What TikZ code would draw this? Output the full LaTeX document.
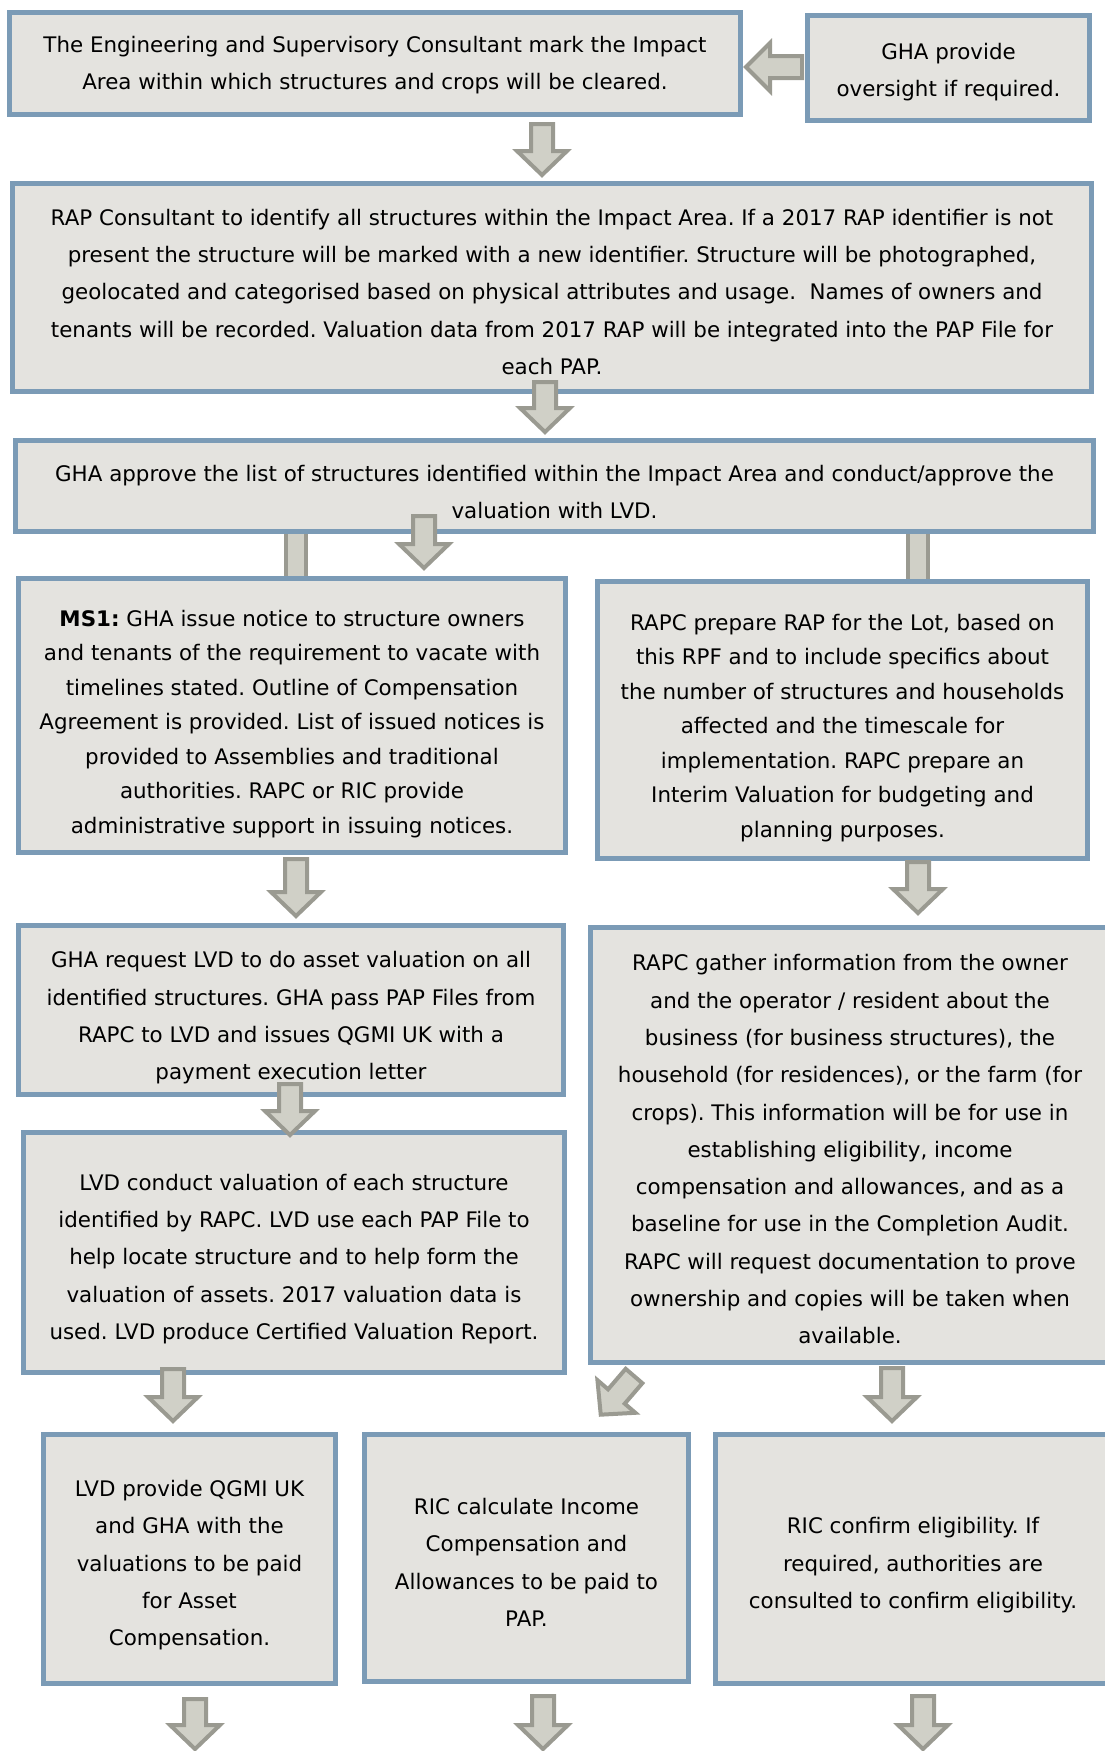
\documentclass[tikz,border=0pt]{standalone}
\usepackage{fontspec}
\setmainfont{DejaVu Sans}
\usetikzlibrary{calc}
\definecolor{boxfill}{HTML}{E4E3DF}
\definecolor{boxline}{HTML}{7B9BB6}
\definecolor{arrfill}{HTML}{D0D0C7}
\definecolor{arrline}{HTML}{9A9A91}
\newcommand{\fst}[1][25pt]{\rule{0pt}{#1}}
\tikzset{
  flowbox/.style={draw=boxline, line width=4.3pt, fill=boxfill, align=center,
    inner sep=0pt, text=black, font=\fontsize{21.4}{37.3}\selectfont\frenchspacing},
  tightbox/.style={flowbox, font=\fontsize{21.4}{34.5}\selectfont\frenchspacing},
  blk/.style={draw=arrline, fill=arrfill, line width=4pt, line join=miter},
}
\newcommand{\dnarrow}[2]{%
  \draw[blk] ($(#1)+(-11,0)$) -- ($(#2)+(-11,-24)$) -- ($(#2)+(-25,-24)$) -- (#2)
    -- ($(#2)+(25,-24)$) -- ($(#2)+(11,-24)$) -- ($(#1)+(11,0)$) -- cycle;}
\newcommand{\ltarrow}[2]{%
  \draw[blk] ($(#1)+(0,-11)$) -- ($(#2)+(24,-11)$) -- ($(#2)+(24,-24)$) -- (#2)
    -- ($(#2)+(24,24)$) -- ($(#2)+(24,11)$) -- ($(#1)+(0,11)$) -- cycle;}
\begin{document}
\begin{tikzpicture}[x=1pt,y=-1pt]
\useasboundingbox (0,0) rectangle (1105,1751);
\fill[white] (0,0) rectangle (1105,1751);

% connector bars from the approval box
\draw[blk] (286,530) rectangle (306,580);
\draw[blk] (908,530) rectangle (928,582);

% boxes
\node[flowbox, minimum width=731pt, minimum height=102pt] (b1) at (375,63.5)
  {\fst[20pt]The Engineering and Supervisory Consultant mark the Impact\\Area within which structures and crops will be cleared.};
\node[flowbox, minimum width=282pt, minimum height=105pt] (b0) at (948.5,68)
  {\fst GHA provide\\oversight if required.};
\node[flowbox, minimum width=1079pt, minimum height=208pt] (b2) at (552,287.5)
  {\fst RAP Consultant to identify all structures within the Impact Area. If a 2017 RAP identifier is not\\
   present the structure will be marked with a new identifier. Structure will be photographed,\\
   geolocated and categorised based on physical attributes and usage.\ \ Names of owners and\\
   tenants will be recorded. Valuation data from 2017 RAP will be integrated into the PAP File for\\
   each PAP.};
\node[flowbox, minimum width=1078pt, minimum height=91pt] (b3) at (554.5,486)
  {\fst[28pt]GHA approve the list of structures identified within the Impact Area and conduct/approve the\\
   valuation with LVD.};
\node[tightbox, minimum width=547pt, minimum height=274pt] (b4) at (292,715.5)
  {\fst[33pt]\textbf{MS1:} GHA issue notice to structure owners\\
   and tenants of the requirement to vacate with\\
   timelines stated. Outline of Compensation\\
   Agreement is provided. List of issued notices is\\
   provided to Assemblies and traditional\\
   authorities. RAPC or RIC provide\\
   administrative support in issuing notices.};
\node[tightbox, minimum width=490pt, minimum height=277pt] (b5) at (842.5,720)
  {\fst[32pt]RAPC prepare RAP for the Lot, based on\\
   this RPF and to include specifics about\\
   the number of structures and households\\
   affected and the timescale for\\
   implementation. RAPC prepare an\\
   Interim Valuation for budgeting and\\
   planning purposes.};
\node[flowbox, minimum width=545pt, minimum height=169pt] (b6) at (291,1010)
  {\fst[32pt]GHA request LVD to do asset valuation on all\\
   identified structures. GHA pass PAP Files from\\
   RAPC to LVD and issues QGMI UK with a\\
   payment execution letter};
\node[flowbox, minimum width=519pt, minimum height=435pt] (b7) at (850,1145)
  {\fst RAPC gather information from the owner\\
   and the operator / resident about the\\
   business (for business structures), the\\
   household (for residences), or the farm (for\\
   crops). This information will be for use in\\
   establishing eligibility, income\\
   compensation and allowances, and as a\\
   baseline for use in the Completion Audit.\\
   RAPC will request documentation to prove\\
   ownership and copies will be taken when\\
   available.};
\node[flowbox, minimum width=541pt, minimum height=240pt] (b8) at (294,1252.5)
  {\fst[29pt]LVD conduct valuation of each structure\\
   identified by RAPC. LVD use each PAP File to\\
   help locate structure and to help form the\\
   valuation of assets. 2017 valuation data is\\
   used. LVD produce Certified Valuation Report.};
\node[flowbox, minimum width=292pt, minimum height=249pt] (b9) at (189.5,1559)
  {\fst[29pt]LVD provide QGMI UK\\and GHA with the\\valuations to be paid\\for Asset\\Compensation.};
\node[flowbox, minimum width=324pt, minimum height=247pt] (b10) at (526.5,1558)
  {\fst RIC calculate Income\\Compensation and\\Allowances to be paid to\\PAP.};
\node[flowbox, minimum width=395pt, minimum height=249pt] (b11) at (913,1559)
  {\fst[29pt]RIC confirm eligibility. If\\required, authorities are\\consulted to confirm eligibility.};

% arrow end points
\coordinate (h0t) at (802,67);   \coordinate (h0h) at (746,67);
\coordinate (a1t) at (542,124);  \coordinate (a1h) at (542,175);
\coordinate (a2t) at (545,382);  \coordinate (a2h) at (545,432);
\coordinate (a3t) at (424,516);  \coordinate (a3h) at (424,568);
\coordinate (a4t) at (296,859);  \coordinate (a4h) at (296,916);
\coordinate (a5t) at (918,862);  \coordinate (a5h) at (918,913);
\coordinate (a6t) at (290,1084); \coordinate (a6h) at (290,1135);
\coordinate (a7t) at (173,1369); \coordinate (a7h) at (173,1421);
\coordinate (a8t) at (892,1368); \coordinate (a8h) at (892,1421);
\coordinate (c1t) at (195,1699); \coordinate (c1h) at (195,1749);
\coordinate (c2t) at (543,1696); \coordinate (c2h) at (543,1749);
\coordinate (c3t) at (923,1696); \coordinate (c3h) at (923,1749);

\ltarrow{h0t}{h0h}
\dnarrow{a1t}{a1h}
\dnarrow{a2t}{a2h}
\dnarrow{a3t}{a3h}
\dnarrow{a4t}{a4h}
\dnarrow{a5t}{a5h}
\dnarrow{a6t}{a6h}
\dnarrow{a7t}{a7h}
\dnarrow{a8t}{a8h}
\dnarrow{c1t}{c1h}
\dnarrow{c2t}{c2h}
\dnarrow{c3t}{c3h}

% diagonal arrow from b7 towards b10
\begin{scope}[shift={(634,1376)}, rotate=-40.7]
  \draw[blk] (-11,0) -- (-11,27) -- (-25,27) -- (0,51) -- (25,27) -- (11,27) -- (11,0) -- cycle;
\end{scope}
\end{tikzpicture}
\end{document}
